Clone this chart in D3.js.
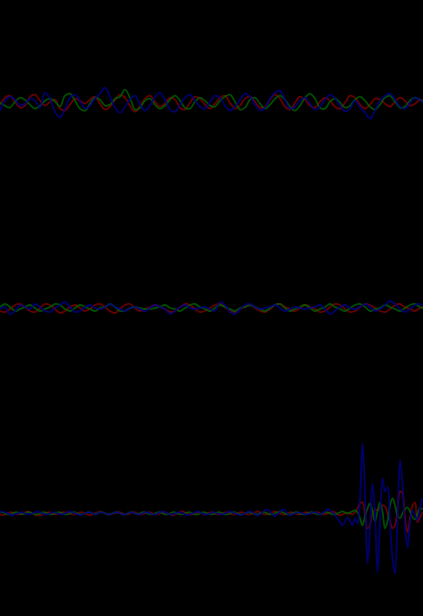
<!DOCTYPE html>
<html><head><meta charset="utf-8">
<script src="https://cdn.jsdelivr.net/npm/d3@7"></script>
<style>html,body{margin:0;padding:0;background:#000;overflow:hidden}svg{display:block}</style>
</head><body>
<script>
// Panel 1 (sampled every 5 px), values in px offset, up positive
const p1Red = [-2,5,7,1,-5,-3,6,8,2,-3,1,3,-6,-8,-2,4,2,-1,3,6,-1,-7,-4,3,8,5,-3,-9,-4,4,7,1,-4,-1,5,3,-5,-7,0,6,4,-2,-6,-1,5,7,0,-6,-3,4,6,1,-5,-4,3,8,4,-4,-7,0,6,3,-3,-5,1,5,2,-4,-6,0,7,5,-2,-6,-2,4,3,-1,-4,1,5,2,-3,-1,3,1];
const p1Green = [0,-3,-5,1,5,3,-2,-6,-3,2,4,1,-4,7,9,2,-6,-8,-1,5,3,-3,-2,4,6,13,5,-7,-5,2,4,-2,-6,-3,3,7,2,-5,-6,1,5,2,-3,-4,2,6,8,1,-7,-5,3,5,-1,-6,-2,4,7,3,-4,-8,-3,5,9,4,-5,-6,1,4,0,-5,-3,3,6,2,-4,-7,-2,5,7,1,-5,-4,2,5,3,-1];
const p1Blue = [-8,2,6,3,-3,-1,4,2,-5,10,4,-9,-15,-6,5,8,2,-6,-3,4,9,15,6,-5,-10,-4,3,7,-2,-8,-3,6,10,3,-7,-9,-2,5,8,2,-4,-6,1,7,5,-3,-8,-4,3,9,6,-2,-8,-5,4,10,12,3,-6,-4,2,5,-1,-7,-4,3,8,4,-3,-9,-6,2,-5,-10,-16,-8,2,7,9,3,-4,-6,0,5,3,-2];
// Panel 2 (sampled every 5 px)
const p2Red = [-3,-4,-1,3,4,1,-3,-4,0,4,3,-1,-5,-3,1,3,0,-3,-1,3,4,1,-3,-5,-1,3,4,0,-3,-1,1,3,1,-1,-4,-3,1,4,3,-1,-4,-3,0,3,4,1,-3,-4,-1,1,3,0,-3,-4,-1,3,4,1,-1,-3,0,3,1,-1,-4,-3,1,4,3,-1,-4,-3,1,4,3,0,-3,-4,-1,3,4,1,-1,-3,0,1];
const p2Green = [1,4,1,-3,-1,1,3,0,-3,-1,1,4,3,-1,-3,0,3,1,-1,-3,0,1,4,1,-3,-3,0,1,0,-1,-1,0,1,3,0,-1,-3,0,3,4,1,-1,-3,0,3,1,-1,-3,0,1,3,1,-1,-3,0,3,4,0,-3,-1,1,3,0,-3,-1,1,4,1,-1,-3,0,3,4,1,-3,-1,0,3,1,-1,-3,0,3,4,1,-1];
const p2Blue = [-1,1,-6,-3,3,1,-1,4,1,-3,-4,0,3,6,1,-4,-3,1,3,0,-1,1,4,1,-1,-3,0,1,-1,-3,0,3,1,-1,-6,-3,1,3,0,-1,0,1,-1,-3,6,3,-4,-6,-1,3,4,1,-1,0,1,3,0,-3,-1,1,0,-1,0,1,3,-1,-6,-3,1,3,0,-1,1,4,1,-3,-1,3,7,4,-1,-4,-1,3,4,0];
// Panel 3 (sampled every 2.5 px)
const p3Red = [-1,-2,-1,0,1,1,0,-1,-1,0,1,2,1,0,-1,-2,-2,-1,0,1,
  1,0,-1,-1,0,1,1,1,0,-1,-1,0,1,1,0,-1,-2,-1,0,1,
  2,1,0,-1,-1,0,0,1,1,0,-1,-1,0,1,1,0,-1,-1,0,1,
  1,0,-1,-1,0,1,1,0,-1,-2,-1,0,1,2,1,0,-1,-1,0,1,
  1,0,-1,0,1,1,0,-1,-1,0,1,1,0,-1,-1,0,1,1,0,-1,
  -1,0,1,2,1,0,-1,-1,0,1,2,1,0,-1,-1,0,1,1,0,-1,
  -1,0,1,1,0,0,1,1,0,-1,-1,0,1,2,1,-1,-2,-1,0,0,
  0,-1,1,5,10,11,-2,-15,-12,0,4,3,6,8,7,0,-8,-15,-12,5,22,20,-5,-19,-5,8,11,-9,-4,1];
const p3Green = [1,1,0,-1,-1,0,1,1,0,-1,0,1,1,0,-1,-1,0,1,1,0,
  -1,-1,0,1,1,0,-1,-1,0,1,1,0,-1,-1,0,1,1,0,-1,0,
  1,1,0,-1,-1,0,1,1,0,-1,-1,0,1,1,0,-1,0,1,1,0,
  -1,-1,0,1,1,0,-1,-1,0,1,1,0,-1,-1,0,1,1,0,-1,-1,
  0,1,1,0,-1,-1,0,1,1,0,-1,-1,0,1,1,0,-1,-1,0,1,
  1,0,-1,-1,0,1,1,0,-1,-1,0,1,2,1,0,-1,-1,0,1,1,
  0,-1,-1,0,1,1,0,-1,-1,0,1,1,0,-1,-1,0,1,2,1,0,
  1,2,3,1,-5,-12,-3,5,10,2,-8,2,11,2,-15,-8,8,15,8,-2,-5,0,4,6,2,-4,-6,0,5,4];
const p3Blue = [1,2,1,0,-1,-2,-1,0,1,1,0,-1,-1,0,1,2,1,0,-1,-1,
  0,1,1,0,-1,-1,0,1,2,1,0,-1,-2,-1,0,1,1,0,-1,0,
  1,1,0,-1,-1,0,1,1,0,-1,-1,0,1,1,0,-1,-1,0,1,1,
  0,-1,-1,0,1,2,1,0,-1,-1,0,1,1,0,-1,-2,-1,0,1,2,
  1,0,-1,-1,0,1,1,0,-1,-1,0,1,2,1,0,-1,-2,-1,0,1,
  2,1,-1,-2,-1,1,3,4,2,-1,-3,-1,2,4,3,0,-2,-1,0,1,
  1,0,-1,-1,0,1,1,0,-1,0,2,4,3,1,-2,-5,-9,-12,-8,-4,
  -8,-12,-5,-10,15,70,20,-50,-15,30,0,-59,-10,35,22,26,-10,-45,-60,-5,53,30,-15,-34,-10,3,-2,-7,5,15];

const seriesColors = ["#800000", "#006000", "#000088"];
const panels = [
  {series: [p1Red, p1Green, p1Blue], span: 425},
  {series: [p2Red, p2Green, p2Blue], span: 425},
  {series: [p3Red, p3Green, p3Blue], span: 422.5}
];

const W = 423, H = 616, PH = H / 3;
const svg = d3.select("body").append("svg").attr("width", W).attr("height", H)
  .style("background", "#000");
svg.append("rect").attr("width", W).attr("height", H).attr("fill", "#000");

panels.forEach((p, pi) => {
  const g = svg.append("g").attr("transform", `translate(0,${pi * PH})`);
  const y = d3.scaleLinear().domain([-PH / 2, PH / 2]).range([PH, 0]);
  p.series.forEach((vals, si) => {
    const x = d3.scaleLinear().domain([0, vals.length - 1]).range([0, p.span]);
    const line = d3.line().x((d, i) => x(i)).y(d => y(d)).curve(d3.curveCatmullRom.alpha(0.5));
    g.append("path").datum(vals).attr("d", line)
      .attr("fill", "none").attr("stroke", seriesColors[si])
      .attr("stroke-width", 1.8).attr("stroke-linejoin", "round")
      .attr("stroke-opacity", 0.8);
  });
});
</script>
</body></html>
